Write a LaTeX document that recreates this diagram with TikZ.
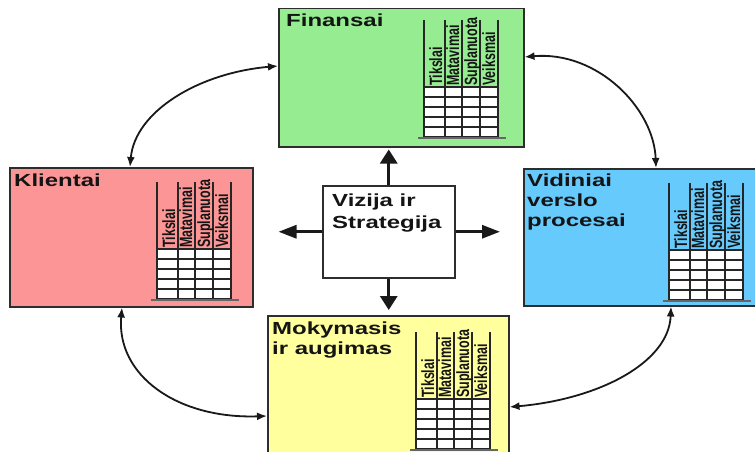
\documentclass[tikz,border=0pt]{standalone}
\usepackage{fontspec}
\usepackage{graphicx}
\setmainfont{Liberation Sans}
\newfontfamily\titlefont{Liberation Sans}[FakeStretch=1.37]
\newfontfamily\headfont{Liberation Sans}
\usetikzlibrary{arrows.meta}

\definecolor{finfill}{RGB}{150,236,145}
\definecolor{klfill}{RGB}{252,150,150}
\definecolor{vidfill}{RGB}{102,202,252}
\definecolor{mokfill}{RGB}{255,255,158}
\definecolor{boxline}{RGB}{45,45,45}

% column header text, set upright and thickened before it is turned
\newcommand{\hdlabel}[1]{\scalebox{1}[1.42]{#1}}

\tikzset{
  card/.style={draw=boxline, line width=1.5pt, anchor=north west, inner sep=0pt},
  cardtitle/.style={anchor=north west, inner sep=0pt, align=left, text=black!92,
    font=\titlefont\bfseries\fontsize{17.5}{20}\selectfont},
  colhead/.style={rotate=90, anchor=base west, inner sep=0pt, text=black!92,
    font=\headfont\bfseries\fontsize{12.5}{14}\selectfont},
  gridline/.style={draw=black!85, line width=1.1pt},
  colline/.style={draw=black!85, line width=1.8pt},
  floorline/.style={draw=black!60, line width=1.4pt},
  push/.style={draw=black!90, line width=3pt},
  vtip/.style={-{Triangle[length=14pt,width=17pt]}},
  htip/.style={-{Triangle[length=18pt,width=13pt]}},
  cycle link/.style={draw=black!90, line width=1.8pt,
    {Latex[length=10pt,width=8pt]}-{Latex[length=10pt,width=8pt]}},
  % measures table: four turned column heads over a grid of five rows
  scorecard/.pic={
    \fill[white] (0,-67) rectangle (74,-117);
    \foreach \yy in {-67,-77,-87,-97,-107,-117}
      \draw[gridline] (0,\yy) -- (74,\yy);
    \foreach \xx in {0,21,38,56,74}
      \draw[colline] (\xx,0) -- (\xx,-117);
    \draw[floorline] (-6,-118) -- (82,-118);
    \node[colhead] (-t) at (18,-66) {\hdlabel{Tikslai}};
    \node[colhead] (-m) at (35,-66) {\hdlabel{Matavimai}};
    \node[colhead] (-s) at (53,-66) {\hdlabel{Suplanuota}};
    \node[colhead] (-v) at (71,-66) {\hdlabel{Veiksmai}};
  }
}

\begin{document}
\begin{tikzpicture}[x=1pt, y=1pt]
  \useasboundingbox (0,0) rectangle (755,-452);
  \fill[white] (0,0) rectangle (755,-452);
  \clip (0,0) rectangle (755,-452);

  % perspective boxes
  \node[card, fill=finfill, minimum width=245, minimum height=138] (fin) at (278,-8) {};
  \node[card, fill=klfill,  minimum width=243, minimum height=139] (kl)  at (9,-167) {};
  \node[card, fill=vidfill, minimum width=237, minimum height=137] (vid) at (523,-168) {};
  \node[card, fill=mokfill, minimum width=241, minimum height=155] (mok) at (267,-315) {};
  \node[card, fill=white,   minimum width=132, minimum height=92]  (ctr) at (322,-185) {};

  % titles
  \node[cardtitle] (fintitle) at ([shift={(8,-6)}]fin.north west) {Finansai};
  \node[cardtitle] (kltitle)  at ([shift={(5,-7)}]kl.north west) {Klientai};
  \node[cardtitle] (vidtitle) at ([shift={(4,-6)}]vid.north west) {Vidiniai\\verslo\\procesai};
  \node[cardtitle] (moktitle) at ([shift={(5,-7)}]mok.north west) {Mokymasis\\ir augimas};
  \node[cardtitle, font=\titlefont\bfseries\fontsize{17.5}{21.5}\selectfont]
    (ctrtitle) at ([shift={(10,-9)}]ctr.north west) {Vizija ir\\Strategija};

  % measures tables
  \pic (finsc) at ([shift={(146,-12)}]fin.north west) {scorecard};
  \pic (klsc)  at ([shift={(148,-15)}]kl.north west)  {scorecard};
  \pic (vidsc) at ([shift={(146,-15)}]vid.north west) {scorecard};
  \pic (moksc) at ([shift={(149,-17)}]mok.north west) {scorecard};

  % arrows out of the vision box
  \draw[push, vtip, shorten >=2pt]  (ctr.north) -- (ctr.north |- fin.south);
  \draw[push, vtip, shorten >=5pt]  (ctr.south) -- (ctr.south |- mok.north);
  \draw[push, htip, shorten >=25pt] (ctr.west)  -- (ctr.west -| kl.east);
  \draw[push, htip, shorten >=23pt] (ctr.east)  -- (ctr.east -| vid.west);

  % cycle between the perspectives
  \draw[cycle link] ([xshift=121]kl.north west)
    .. controls +(85:55) and +(185:81) .. ([yshift=-58]fin.north west);
  \draw[cycle link] ([yshift=-49]fin.north east)
    .. controls +(5:73) and +(92:60) .. ([xshift=133]vid.north west);
  \draw[cycle link] ([xshift=113]kl.south west)
    .. controls +(-95:68) and +(182:90) .. ([yshift=-101]mok.north west);
  \draw[cycle link] ([yshift=-92]mok.north east)
    .. controls +(5:90) and +(-92:56) .. ([xshift=148]vid.south west);
\end{tikzpicture}
\end{document}
